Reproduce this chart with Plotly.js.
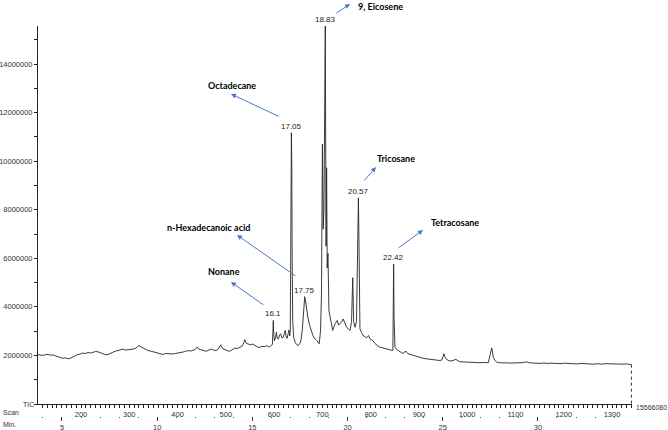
<!DOCTYPE html>
<html>
<head>
<meta charset="utf-8">
<script src="https://cdn.plot.ly/plotly-3.0.1.min.js"></script>
<style>html,body{margin:0;padding:0;background:#fff;}#chart{width:668px;height:430px;}</style>
</head>
<body>
<div id="chart"></div>
<script>
// Retention time (min) and TIC intensity (millions of counts)
const retentionMin = [
3.74,3.87,4.00,4.13,4.27,4.40,4.53,4.66,4.79,4.92,5.05,5.18,5.32,5.45,5.58,5.71,5.84,5.97,6.10,6.23,
6.37,6.50,6.63,6.76,6.89,7.02,7.15,7.28,7.42,7.55,7.68,7.81,7.94,8.07,8.20,8.33,8.47,8.60,8.73,8.88,
9.04,9.15,9.25,9.38,9.52,9.65,9.78,9.91,10.04,10.17,10.30,10.43,10.57,10.70,10.83,10.96,11.09,11.22,11.36,11.49,
11.62,11.75,11.88,12.00,12.11,12.20,12.32,12.45,12.58,12.71,12.84,12.97,13.10,13.22,13.34,13.44,13.55,13.68,13.81,13.94,
14.07,14.20,14.33,14.46,14.55,14.60,14.68,14.77,14.90,15.03,15.15,15.26,15.38,15.50,15.62,15.77,15.88,15.97,16.05,16.08,
16.10,16.12,16.16,16.22,16.26,16.31,16.37,16.43,16.49,16.55,16.62,16.68,16.72,16.76,16.82,16.88,16.92,16.96,16.99,17.01,
17.03,17.05,17.07,17.09,17.12,17.17,17.24,17.32,17.40,17.48,17.55,17.62,17.69,17.75,17.80,17.86,17.93,18.01,18.10,18.18,
18.26,18.35,18.45,18.51,18.58,18.63,18.68,18.72,18.76,18.79,18.83,18.87,18.90,18.93,18.97,19.02,19.08,19.22,19.34,19.46,
19.53,19.60,19.69,19.77,19.86,19.95,20.04,20.13,20.21,20.27,20.32,20.39,20.47,20.52,20.57,20.61,20.65,20.73,20.81,20.91,
21.00,21.10,21.18,21.26,21.33,21.43,21.53,21.62,21.70,21.78,21.86,21.94,22.02,22.12,22.23,22.33,22.38,22.40,22.42,22.44,
22.47,22.49,22.57,22.66,22.75,22.84,22.93,23.01,23.07,23.17,23.28,23.40,23.54,23.67,23.80,23.98,24.15,24.33,24.50,24.68,
24.85,24.96,25.02,25.06,25.11,25.17,25.28,25.38,25.54,25.69,25.80,25.90,26.16,26.43,26.69,26.95,27.17,27.39,27.48,27.53,
27.57,27.62,27.65,27.74,27.83,27.98,28.10,28.23,28.36,28.52,28.70,28.88,29.06,29.25,29.41,29.52,29.70,29.88,30.10,30.30,
30.50,30.72,30.95,31.16,31.40,31.62,31.85,32.05,32.26,32.48,32.70,32.92,33.12,33.34,33.56,33.78,34.00,34.22,34.44,34.66,
34.83,34.91
];
const ticMillions = [
2.03,2.01,2.00,2.03,2.04,2.01,2.02,1.98,1.95,1.92,1.88,1.90,1.86,1.89,1.95,1.99,2.04,2.06,2.10,2.08,
2.12,2.10,2.13,2.16,2.15,2.11,2.07,2.03,2.04,2.09,2.14,2.18,2.20,2.24,2.26,2.22,2.23,2.27,2.26,2.30,
2.41,2.35,2.30,2.27,2.20,2.18,2.15,2.12,2.10,2.06,2.04,2.08,2.07,2.05,2.06,2.08,2.09,2.12,2.14,2.17,
2.20,2.18,2.20,2.24,2.35,2.25,2.23,2.19,2.17,2.22,2.26,2.22,2.20,2.27,2.44,2.28,2.23,2.20,2.17,2.24,
2.30,2.28,2.33,2.38,2.52,2.65,2.50,2.47,2.44,2.47,2.40,2.35,2.33,2.38,2.36,2.40,2.34,2.42,2.45,3.00,
3.44,2.90,2.60,2.75,2.96,2.70,2.68,2.85,2.89,2.72,2.75,2.90,3.03,2.82,2.70,2.90,3.05,2.80,3.00,5.50,
9.00,11.17,9.90,6.00,3.40,2.75,2.55,2.45,2.40,2.48,2.61,3.03,3.90,4.42,4.20,3.85,3.50,3.23,2.96,2.82,
2.70,2.65,2.55,2.48,3.00,4.50,10.70,7.20,8.00,11.00,15.566080,6.50,9.73,5.60,6.20,3.85,3.60,3.03,3.30,3.44,
3.25,3.30,3.38,3.50,3.30,3.16,3.10,3.03,3.40,5.20,3.40,3.16,3.40,6.00,8.49,6.00,3.10,2.95,2.82,2.78,
2.72,2.82,2.68,2.64,2.61,2.50,2.41,2.37,2.34,2.32,2.30,2.28,2.27,2.25,2.23,2.21,2.20,4.00,5.76,3.60,
2.50,2.34,2.25,2.20,2.13,2.11,2.09,2.16,2.18,2.07,2.04,2.01,1.99,1.94,1.90,1.88,1.86,1.84,1.82,1.81,
1.79,1.82,1.95,2.07,1.95,1.86,1.80,1.77,1.79,1.84,1.78,1.74,1.73,1.71,1.72,1.70,1.71,1.70,2.00,2.28,
2.31,2.10,1.93,1.80,1.72,1.70,1.71,1.69,1.70,1.68,1.69,1.71,1.70,1.71,1.74,1.70,1.69,1.68,1.67,1.69,
1.67,1.68,1.66,1.66,1.68,1.66,1.67,1.65,1.67,1.65,1.66,1.64,1.66,1.64,1.66,1.65,1.63,1.65,1.64,1.65,
1.64,1.62
];
const ticIntensity = ticMillions.map(v => v * 1e6);

// Labelled peaks
const peakTimes = [16.1, 17.05, 17.75, 18.83, 20.57, 22.42];
const peakHeightsM = [3.44, 11.17, 4.42, 15.56608, 8.49, 5.76];
const peakLabels = ["16.1", "17.05", "17.75", "18.83", "20.57", "22.42"];

// Compound names
const compoundNames = ["Nonane", "Octadecane", "n-Hexadecanoic acid", "9, Eicosene", "Tricosane", "Tetracosane"];

// Axis ticks
const yTickVals = [2000000, 4000000, 6000000, 8000000, 10000000, 12000000, 14000000];
const scanTickVals = [200, 300, 400, 500, 600, 700, 800, 900, 1000, 1100, 1200, 1300];
const minTickVals = [5, 10, 15, 20, 25, 30];
const maxIntensityLabel = "15566080";

// ---- layout geometry (pixels) ----
const PL = 38, PR = 632, PT = 26, PB = 425, Y0 = 404;
const px = x => (x - PL) / (PR - PL);
const py = y => (PB - y) / (PB - PT);
const minRange = [3.74, 34.94];
const toScan = m => 160.6 + 39.44 * (m - 5);

const axisFont = {family: "Liberation Sans, Arial, sans-serif", size: 7.5, color: "#333"};
const nameFont = {family: "Lato, Liberation Sans, sans-serif", size: 9, color: "#000", weight: "bold"};

const trace = {
  x: retentionMin, y: ticIntensity, type: "scatter", mode: "lines",
  line: {color: "#262626", width: 0.9}, hoverinfo: "skip", xaxis: "x", yaxis: "y"
};

const annotations = [];
peakTimes.forEach((t, i) => {
  annotations.push({x: t, y: peakHeightsM[i] * 1e6, xref: "x", yref: "y", text: peakLabels[i],
    showarrow: false, yanchor: "bottom", xanchor: "center", yshift: 0, font: {family: axisFont.family, size: 8, color: "#222"}});
});
// compound name positions [left px, centre y px]
const namePos = [[207, 271], [207, 85], [166, 227], [357, 6], [376, 158], [430, 222]];
compoundNames.forEach((n, i) => {
  annotations.push({x: px(namePos[i][0]), y: py(namePos[i][1]), xref: "paper", yref: "paper", text: "<b>" + n + "</b>",
    showarrow: false, xanchor: "left", yanchor: "middle", font: nameFont, borderpad: 0});
});
// arrows [headX, headY, tailX, tailY]
const arrows = [[231, 282, 265, 306], [231, 94, 280, 117], [237, 235, 297, 277], [350, 4, 335, 14], [376, 167, 363, 182], [423, 230, 397, 249]];
arrows.forEach(a => {
  annotations.push({x: px(a[0]), y: py(a[1]), xref: "paper", yref: "paper", text: "", showarrow: true,
    ax: a[2] - a[0], ay: a[3] - a[1], arrowhead: 2, arrowsize: 1, arrowwidth: 1, arrowcolor: "#4a78c8", standoff: 0, startstandoff: 0});
});
// axis captions
const capFont = {family: axisFont.family, size: 7, color: "#333"};
annotations.push({x: px(22), y: py(404), xref: "paper", yref: "paper", text: "TIC", showarrow: false, xanchor: "left", yanchor: "middle", font: capFont, borderpad: 0});
annotations.push({x: px(2), y: py(412), xref: "paper", yref: "paper", text: "Scan", showarrow: false, xanchor: "left", yanchor: "middle", font: capFont, borderpad: 0});
annotations.push({x: px(2), y: py(424.5), xref: "paper", yref: "paper", text: "Min.", showarrow: false, xanchor: "left", yanchor: "middle", font: capFont, borderpad: 0});
annotations.push({x: px(668), y: py(407), xref: "paper", yref: "paper", text: maxIntensityLabel, showarrow: false, xanchor: "right", yanchor: "middle", font: {family: axisFont.family, size: 7, color: "#333"}, borderpad: 0});

const lastT = retentionMin[retentionMin.length - 1];
const lastV = ticIntensity[ticIntensity.length - 1];

const layout = {
  width: 668, height: 430,
  margin: {l: PL, r: 668 - PR, t: PT, b: 430 - PB, pad: 0},
  paper_bgcolor: "#fff", plot_bgcolor: "#fff",
  showlegend: false,
  xaxis: {
    range: minRange, anchor: "free", position: py(415.5), side: "bottom",
    showline: false, showgrid: false, zeroline: false,
    tickmode: "array", tickvals: minTickVals, ticks: "outside", ticklen: 4, tickwidth: 1, tickcolor: "#333",
    tickfont: axisFont, ticklabelstandoff: 0,
    minor: {dtick: 1, ticks: "outside", ticklen: 1, tickwidth: 1, tickcolor: "#555", showgrid: false}
  },
  xaxis2: {
    overlaying: "x", anchor: "y", side: "bottom",
    range: [toScan(minRange[0]), toScan(minRange[1])],
    showline: true, linecolor: "#222", linewidth: 1, showgrid: false, zeroline: false,
    tickmode: "array", tickvals: scanTickVals, ticks: "outside", ticklen: 3, tickwidth: 1, tickcolor: "#222",
    tickfont: axisFont, ticklabelstandoff: 0,
    minor: {dtick: 10, tick0: 0, ticks: "outside", ticklen: 3, tickwidth: 1, tickcolor: "#222", showgrid: false}
  },
  yaxis: {
    domain: [(PB - Y0) / (PB - PT), 1], anchor: "x",
    range: [0, 15566080], showline: true, linecolor: "#222", linewidth: 1, showgrid: false, zeroline: false,
    tickmode: "array", tickvals: yTickVals, tickformat: "d", ticks: "outside", ticklen: 3, tickwidth: 1, tickcolor: "#222",
    tickfont: axisFont, ticklabelstandoff: 0,
    minor: {dtick: 1000000, tick0: 0, ticks: "outside", ticklen: 3, tickwidth: 1, tickcolor: "#222", showgrid: false}
  },
  shapes: [{type: "line", xref: "x", yref: "y", x0: lastT, x1: lastT, y0: lastV, y1: 0,
    line: {color: "#333", width: 1, dash: "dot"}}],
  annotations: annotations
};

// placeholder trace so the scan axis (xaxis2) is drawn
const scanTrace = {x: [toScan(minRange[0])], y: [null], xaxis: "x2", yaxis: "y", type: "scatter", mode: "lines", hoverinfo: "skip", showlegend: false};

Plotly.newPlot("chart", [trace, scanTrace], layout, {staticPlot: true, displayModeBar: false});
</script>
</body>
</html>
